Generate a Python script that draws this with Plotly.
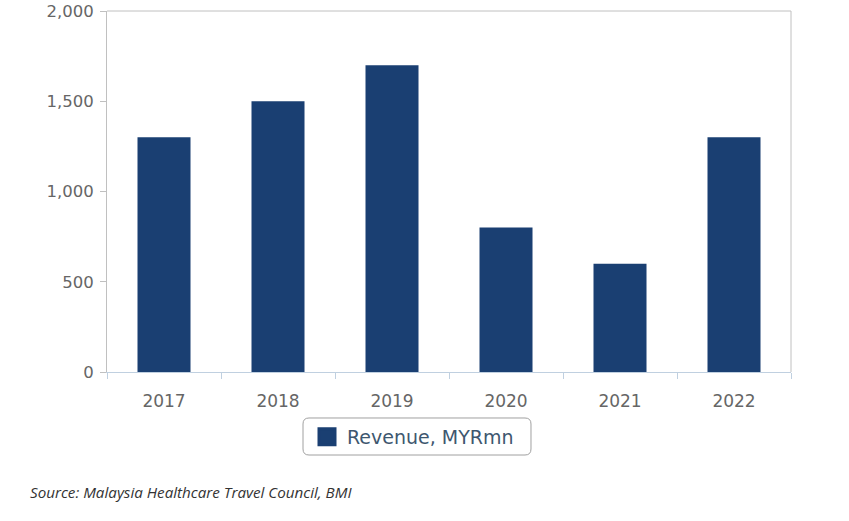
import plotly.graph_objects as go

years = ["2017", "2018", "2019", "2020", "2021", "2022"]
revenue = [1300, 1500, 1700, 800, 600, 1300]
series_name = "Revenue, MYRmn"
y_ticks = [0, 500, 1000, 1500, 2000]
source_text = "Source: Malaysia Healthcare Travel Council, BMI"

BAR_COLOR = "#1a3f72"

W, H = 849, 521
L, R, T, B = 107, 58, 11, 149
pw, ph = W - L - R, H - T - B

def px_x(x):
    return (x - L) / pw

def px_y(y):
    return (H - B - y) / ph

def rounded_rect(x0, y0, x1, y1, r):
    # pixel coords -> paper coords path with rounded corners
    def P(x, y):
        return f"{px_x(x):.5f},{px_y(y):.5f}"
    return (f"M {P(x0 + r, y0)} L {P(x1 - r, y0)} Q {P(x1, y0)} {P(x1, y0 + r)} "
            f"L {P(x1, y1 - r)} Q {P(x1, y1)} {P(x1 - r, y1)} "
            f"L {P(x0 + r, y1)} Q {P(x0, y1)} {P(x0, y1 - r)} "
            f"L {P(x0, y0 + r)} Q {P(x0, y0)} {P(x0 + r, y0)} Z")

fig = go.Figure()
fig.add_trace(go.Bar(
    x=years, y=revenue, name=series_name,
    marker=dict(color=BAR_COLOR, line=dict(width=0)),
    showlegend=False,
))
# legend proxy (larger square symbol)
fig.add_trace(go.Scatter(
    x=[None], y=[None], mode="markers", name=series_name,
    marker=dict(symbol="square", size=16, color=BAR_COLOR,
                line=dict(color=BAR_COLOR, width=3)),
    showlegend=True,
))

fig.update_layout(
    width=W, height=H,
    margin=dict(l=L, r=R, t=T, b=B, pad=0),
    paper_bgcolor="white", plot_bgcolor="white",
    bargap=0.535,
    font=dict(family="DejaVu Sans, Verdana, sans-serif", color="#666666", size=16),
    xaxis=dict(
        type="category",
        categoryorder="array", categoryarray=years,
        showgrid=False,
        showline=True, linecolor="#c0d0e0", linewidth=1,
        ticks="outside", tickson="boundaries", ticklen=6, tickcolor="#c0d0e0",
        tickfont=dict(size=17, color="#666666"),
        ticklabelstandoff=14,
        zeroline=False, automargin=False,
    ),
    yaxis=dict(
        range=[0, 2000],
        tickvals=y_ticks,
        tickformat=",",
        showgrid=False,
        showline=True, linecolor="#c0c0c0", linewidth=1,
        ticks="outside", ticklen=6, tickcolor="#c0c0c0",
        tickfont=dict(size=16.5, color="#666666"),
        ticklabelstandoff=3,
        zeroline=False, automargin=False,
    ),
    legend=dict(
        orientation="h",
        x=px_x(307), xanchor="left",
        y=px_y(418), yanchor="top",
        borderwidth=0,
        bgcolor="rgba(0,0,0,0)",
        font=dict(size=19, color="#3E576F"),
        itemsizing="trace",
    ),
    shapes=[
        dict(type="line", xref="x domain", yref="y domain", x0=0, x1=1, y0=1, y1=1,
             line=dict(color="#c0c0c0", width=1), layer="above"),
        dict(type="line", xref="x domain", yref="y domain", x0=1, x1=1, y0=0, y1=1,
             line=dict(color="#c0c0c0", width=1), layer="above"),
        dict(type="path", xref="paper", yref="paper",
             path=rounded_rect(303, 418, 531, 455, 6),
             line=dict(color="#a0a0a0", width=1), fillcolor="white", layer="below"),
    ],
    annotations=[
        dict(text=source_text, xref="paper", yref="paper",
             x=px_x(28), y=px_y(492), xanchor="left", yanchor="middle",
             showarrow=False,
             font=dict(family="Open Sans, sans-serif", size=15.2, color="#333333", style="italic")),
    ],
)

fig.write_html("out.html")
